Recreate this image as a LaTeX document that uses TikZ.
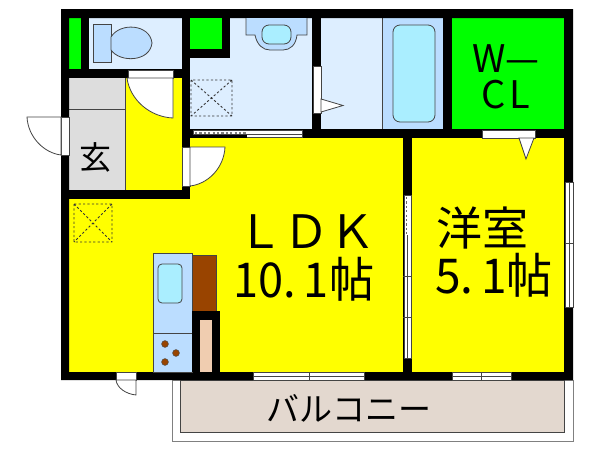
\documentclass[tikz,border=0pt]{standalone}
\usepackage{fontspec}
\setmainfont{Liberation Sans}
\newfontfamily\jp{Noto Sans CJK JP}
\definecolor{wet}{HTML}{DDEEFF}
\definecolor{fix}{HTML}{BBDDFF}
\definecolor{tubw}{HTML}{AAEEFF}
\definecolor{room}{HTML}{FFFF00}
\definecolor{clo}{HTML}{00FF00}
\definecolor{grayf}{HTML}{DDDDDD}
\definecolor{balc}{HTML}{E3D8CF}
\definecolor{brn}{HTML}{994400}
\definecolor{skin}{HTML}{F0CDB0}
\definecolor{lin}{HTML}{444444}
\tikzset{
 x=1pt,y=-1pt,
 wall/.style={fill=black,draw=none},
 part/.style={draw=lin,line width=.8pt},
 opening/.style={fill=white,draw=lin,line width=.6pt},
 leaf/.style={fill=white,draw=lin,line width=.8pt},
 hatch/.style={draw=black!80,line width=.9pt,dash pattern=on 2.2pt off 2.2pt},
 lbl/.style={inner sep=0pt,text=black,font=\jp},
}
\newcommand{\sz}[1]{\fontsize{#1}{#1}\selectfont}
\begin{document}
\begin{tikzpicture}
\useasboundingbox (0,0) rectangle (600,450);
\fill[white] (0,0) rectangle (600,450);
% balcony
\draw[draw=gray,line width=1pt,fill=white] (172,380) rectangle (573,441);
\draw[draw=lin,line width=.9pt,fill=balc] (180,380) rectangle (564,432);
% rooms
\fill[room] (69,199) rectangle (403,372);
\fill[room] (412,138) rectangle (564,372);
\fill[room] (190,138) rectangle (403,199);
\fill[room] (125,78) rectangle (182,190);
\fill[grayf] (69,78) rectangle (125,190);
\draw[part] (125,78) -- (125,190);
\draw[part] (69,109) -- (125,109);
\fill[clo] (69,18) rectangle (81,69);
\fill[wet] (89,18) rectangle (182,69);
\fill[wet] (190,18) rectangle (312,129);
\fill[wet] (321,18) rectangle (382,129);
\fill[fix] (382,18) rectangle (443,129);
\draw[part] (382,18) -- (382,129);
\fill[clo] (452,18) rectangle (564,129);
% walls
\path[wall,even odd rule] (61,9) rectangle (573,380) (69,18) rectangle (564,372);
\fill[wall] (81,18) rectangle (89,78);
\fill[wall] (69,69) rectangle (182,78);
\fill[wall] (182,18) rectangle (190,199);
\fill[wall] (69,190) rectangle (190,199);
\fill[clo] (190,18) rectangle (222,49);
\fill[wall] (222,18) rectangle (230,58);
\fill[wall] (190,49) rectangle (230,58);
\fill[wall] (312,18) rectangle (321,129);
\fill[wall] (443,18) rectangle (452,129);
\fill[wall] (182,129) rectangle (564,138);
\fill[wall] (403,138) rectangle (412,372);
% openings
\draw[opening] (128,70) rectangle (173,78);
\draw[opening] (61,117) rectangle (69,155);
\draw[opening] (182,147) rectangle (190,186);
\draw[opening] (313,66) rectangle (321,113);
\draw[opening] (482,130) rectangle (535,138);
\draw[opening] (565,182) rectangle (573,307);
\draw[part,line width=.5pt] (569,182) -- (569,307);
\draw[part,line width=.5pt] (565,243) -- (573,243);
\draw[opening] (404,195) rectangle (411,358);
\draw[part,line width=.5pt] (407.5,235) -- (407.5,358);
\draw[hatch,draw=black!60,line width=1pt] (406,197) -- (406,235);
\draw[part,line width=.6pt] (403,276) -- (412,276) (403,317) -- (412,317);
\draw[opening] (253,372) rectangle (364,380);
\draw[part,line width=.5pt] (253,376) -- (364,376) (309,372) -- (309,380);
\draw[opening] (452,372) rectangle (511,380);
\draw[part,line width=.5pt] (452,376) -- (511,376) (481,372) -- (481,380);
\draw[opening] (116,372) rectangle (136,380);
\draw[opening] (193,130) rectangle (302,137);
\draw[part,line width=.5pt] (193,134) -- (302,134);
\fill[black] (190,135) rectangle (247,138);
\draw[hatch,draw=black!50,line width=1.1pt] (195,133) -- (246,133);
% door leaves
\draw[leaf] (173,78) -- (173,118) .. controls (150,117) and (130,100) .. (127,78) -- cycle;
\draw[leaf] (61,117) -- (27,117) .. controls (28,137) and (44,153) .. (61,155) -- cycle;
\draw[leaf] (190,147) -- (225,147) .. controls (224,168) and (208,184) .. (190,186) -- cycle;
\draw[leaf] (136,380) -- (136,395) .. controls (126,394) and (117,388) .. (116,380) -- cycle;
\draw[leaf] (321,99) -- (343,105.5) -- (321,112) -- cycle;
\draw[leaf] (519,138) -- (534,138) -- (526,159) -- cycle;
% toilet
\draw[part,fill=fix] (93,24) rectangle (111,62);
\draw[part,fill=fix] (111,37) .. controls (120,22) and (150,24) .. (152,43) .. controls (150,62) and (120,63) .. (111,50) -- cycle;
% basin
\draw[part,fill=fix] (246,18) -- (246,35) -- (255,35) .. controls (257,45) and (263,50) .. (270,50) -- (283,50) .. controls (290,50) and (296,45) .. (297,35) -- (307,35) -- (307,18);
\draw[part,fill=tubw,rounded corners=7pt] (262,25) rectangle (291,44);
% tub
\draw[part,fill=tubw,rounded corners=7pt] (393,25) rectangle (435,122);
% dashed boxes
\draw[hatch] (191,80) rectangle (232,116) (191,80) -- (232,116) (232,80) -- (191,116);
\draw[hatch] (74,204) rectangle (112,242) (74,204) -- (112,242) (112,204) -- (74,242);
% kitchen
\draw[part,fill=fix] (153,253) rectangle (192,372);
\draw[part] (153,333) -- (192,333);
\draw[part,fill=tubw,rounded corners=4pt] (158,264) rectangle (182,303);
\draw[part,fill=brn] (192,255) rectangle (216,311);
\foreach \px/\py in {165/344,176/353,165/362}{\draw[part,fill=brn,line width=.5pt] (\px,\py) circle (3.4);}
\fill[wall] (192,311) rectangle (220,372);
\fill[skin] (200,320) rectangle (212,372);
% labels
\node[lbl] (genkan) at (95,157) {\sz{32}玄};
\node[lbl] (ldk) at (306,232) {\sz{46}ＬＤＫ};
\node[lbl] (ldkarea) at (304,279) {\scalebox{.94}[1]{\sz{48}10.\,1帖}};
\node[lbl] (yoshitsu) at (482,228) {\sz{46}洋室};
\node[lbl] (yoarea) at (494,275) {\scalebox{.96}[1]{\sz{48}5.\,1帖}};
\node[lbl] (wcl1) at (506,59) {\sz{38}W—};
\node[lbl] (wcl2) at (506,95) {\sz{38}C\hspace{4pt}L};
\node[lbl] (bal) at (349,408) {\sz{33}バルコニー};
\end{tikzpicture}
\end{document}
